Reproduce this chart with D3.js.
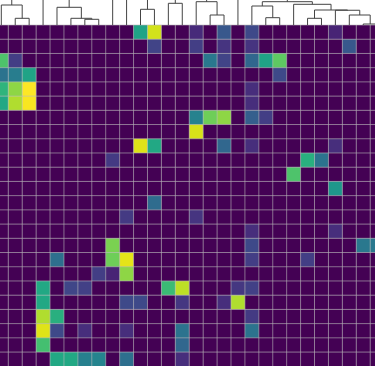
<!DOCTYPE html>
<html><head><meta charset="utf-8">
<script src="https://cdn.jsdelivr.net/npm/d3@7"></script>
<style>html,body{margin:0;padding:0;background:#fff;overflow:hidden}</style>
</head><body><svg id="chart" width="375" height="366"></svg>
<script>
// ---- data ----
const columnIds = ["c0","c1","c2","c3","c4","c5","c6","c7","c8","c9","c10","c11","c12","c13",
  "c14","c15","c16","c17","c18","c19","c20","c21","c22","c23","c24","c25","c26","c27"];
const rowIds = ["r0","r1","r2","r3","r4","r5","r6","r7","r8","r9","r10","r11",
  "r12","r13","r14","r15","r16","r17","r18","r19","r20","r21","r22","r23"];
// non-zero cells: [row, column, value]; every other cell is 0
const cellValues = [
  [0,10,0.58],[0,11,0.93],[0,14,0.12],[0,16,0.27],[0,18,0.22],[0,24,0.10],
  [1,11,0.20],[1,14,0.18],[1,16,0.15],[1,18,0.15],[1,25,0.27],
  [2,0,0.72],[2,1,0.18],[2,15,0.40],[2,16,0.20],[2,18,0.33],[2,19,0.58],[2,20,0.75],
  [3,0,0.38],[3,1,0.42],[3,2,0.58],[3,20,0.22],
  [4,0,0.65],[4,1,0.83],[4,2,1.00],[4,18,0.13],
  [5,0,0.60],[5,1,0.88],[5,2,0.99],[5,18,0.13],
  [6,14,0.44],[6,15,0.78],[6,16,0.83],[6,18,0.30],[6,19,0.18],
  [7,14,0.94],
  [8,10,0.95],[8,11,0.60],[8,16,0.33],[8,18,0.13],[8,24,0.13],
  [9,8,0.17],[9,22,0.63],[9,23,0.38],
  [10,21,0.72],
  [11,24,0.53],
  [12,11,0.35],
  [13,9,0.17],[13,14,0.15],
  [14,18,0.13],[14,24,0.13],
  [15,8,0.80],[15,18,0.22],[15,26,0.40],[15,27,0.40],
  [16,4,0.36],[16,8,0.78],[16,9,0.96],[16,18,0.18],[16,22,0.18],
  [17,7,0.18],[17,8,0.10],[17,9,0.83],
  [18,3,0.60],[18,5,0.21],[18,6,0.19],[18,12,0.68],[18,13,0.90],[18,17,0.16],[18,18,0.19],
  [19,3,0.60],[19,9,0.22],[19,10,0.22],[19,13,0.16],[19,16,0.13],[19,17,0.88],
  [20,3,0.88],[20,4,0.63],[20,18,0.17],
  [21,3,0.95],[21,4,0.22],[21,6,0.13],[21,9,0.13],[21,13,0.38],[21,18,0.38],
  [22,3,0.70],[22,13,0.33],
  [23,4,0.60],[23,5,0.60],[23,6,0.43],[23,7,0.45],[23,9,0.36],[23,13,0.13]
];
// column linkage (scipy style): [childA, childB, distance]; leaves 0..27, clusters 28+
const linkage = [
  [1,2,2.68],[0,28,8.0],[6,7,2.28],[5,30,2.68],[4,31,7.08],
  [10,11,6.28],[12,13,8.68],[15,16,4.0],[14,35,9.32],
  [19,20,2.92],[18,37,7.6],[22,23,2.68],[26,27,0.4],[25,40,4.0],
  [24,41,5.9],[39,42,6.0],[21,43,8.28],[38,44,9.32],
  [29,3,11],[46,32,12],[8,9,11],[47,48,13],[33,34,11.5],[49,50,14],
  [36,17,11],[52,45,12.5],[51,53,16]
];

// ---- layout ----
const svg = d3.select("#chart");
const colW = 13.92, rowH = 14.22, leftX = -5.65, topY = 25;
const x = d3.scaleBand().domain(columnIds).range([leftX, leftX + columnIds.length*colW]);
const y = d3.scaleBand().domain(rowIds).range([topY, topY + rowIds.length*rowH]);
const color = d3.scaleSequential(d3.interpolateViridis).domain([0,1]);
const yD = d3.scaleLinear().domain([0,10]).range([topY, 0]);

const matrix = rowIds.map(() => columnIds.map(() => 0));
cellValues.forEach(([r,c,v]) => { matrix[r][c] = v; });
const cells = [];
matrix.forEach((row,r) => row.forEach((v,c) => cells.push({r,c,v})));

svg.append("g").selectAll("rect").data(cells).join("rect")
  .attr("x", d => x(columnIds[d.c]))
  .attr("y", d => y(rowIds[d.r]))
  .attr("width", x.bandwidth() + 0.3)
  .attr("height", y.bandwidth() + 0.3)
  .attr("fill", d => color(d.v));

// grid lines
const grid = svg.append("g").attr("stroke", "rgba(185,185,185,0.6)").attr("stroke-width", 1);
columnIds.forEach(c => grid.append("line")
  .attr("x1", x(c)).attr("x2", x(c)).attr("y1", topY).attr("y2", 366));
rowIds.forEach(r => grid.append("line")
  .attr("x1", 0).attr("x2", 375).attr("y1", y(r)).attr("y2", y(r)));

// dendrogram
const n = columnIds.length;
const nodeX = [], nodeH = [];
columnIds.forEach((c,i) => { nodeX[i] = x(c) + x.bandwidth()/2; nodeH[i] = 0; });
linkage.forEach(([a,b,d],k) => {
  const id = n + k;
  nodeX[id] = (nodeX[a] + nodeX[b]) / 2;
  nodeH[id] = d;
});
const dg = svg.append("g").attr("fill","none").attr("stroke","#444").attr("stroke-width",1);
linkage.forEach(([a,b,d]) => {
  dg.append("path").attr("d",
    `M${nodeX[a]},${yD(nodeH[a])}V${yD(d)}H${nodeX[b]}V${yD(nodeH[b])}`);
});
</script></body></html>
